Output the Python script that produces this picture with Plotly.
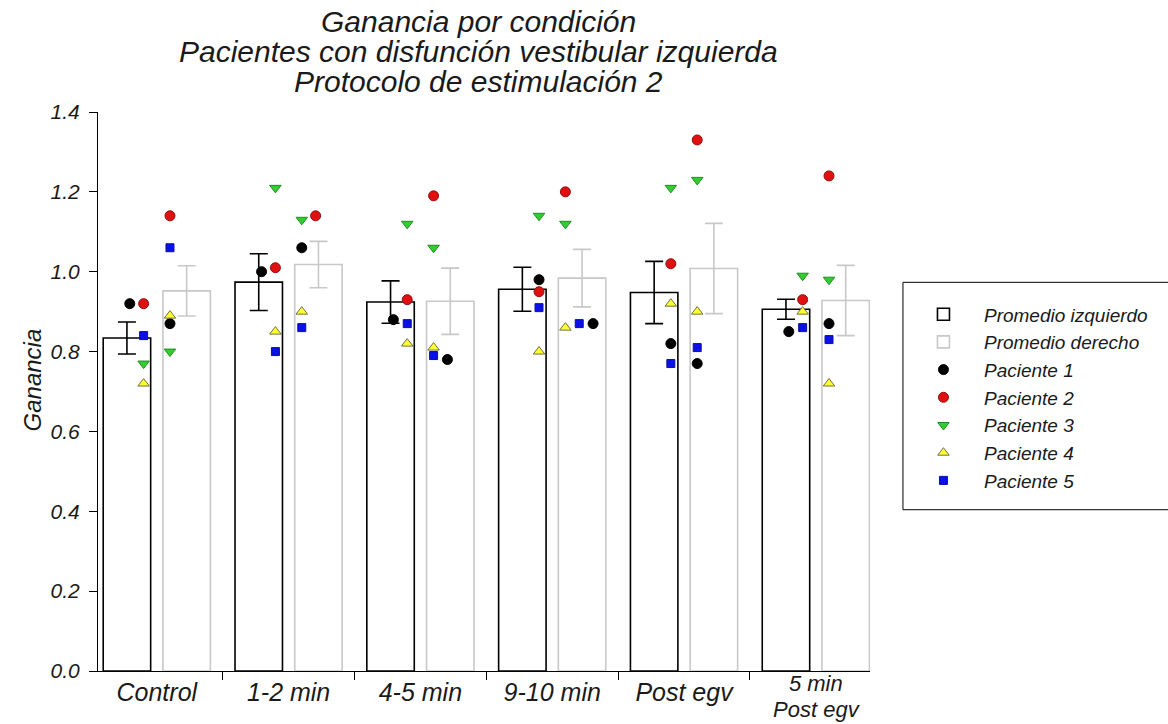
import plotly.graph_objects as go

# ---------------- data ----------------
categories = ["Control", "1-2 min", "4-5 min", "9-10 min", "Post egv", "5 min<br>Post egv"]
title_lines = ["Ganancia por condición",
               "Pacientes con disfunción vestibular izquierda",
               "Protocolo de estimulación 2"]
y_title = "Ganancia"

mean_left = [0.834, 0.974, 0.924, 0.956, 0.948, 0.906]
sem_left = [0.040, 0.071, 0.053, 0.055, 0.078, 0.025]
mean_right = [0.952, 1.018, 0.926, 0.984, 1.008, 0.928]
sem_right = [0.063, 0.058, 0.083, 0.072, 0.113, 0.088]

patients = ["Paciente 1", "Paciente 2", "Paciente 3", "Paciente 4", "Paciente 5"]
p1_left = [0.92, 1.00, 0.88, 0.98, 0.82, 0.85]
p1_right = [0.87, 1.06, 0.78, 0.87, 0.77, 0.87]
p2_left = [0.92, 1.01, 0.93, 0.95, 1.02, 0.93]
p2_right = [1.14, 1.14, 1.19, 1.20, 1.33, 1.24]
p3_left = [0.77, 1.21, 1.12, 1.14, 1.21, 0.99]
p3_right = [0.80, 1.13, 1.06, 1.12, 1.23, 0.98]
p4_left = [0.72, 0.85, 0.82, 0.80, 0.92, 0.90]
p4_right = [0.89, 0.90, 0.81, 0.86, 0.90, 0.72]
p5_left = [0.84, 0.80, 0.87, 0.91, 0.77, 0.86]
p5_right = [1.06, 0.86, 0.79, 0.87, 0.81, 0.83]

left_vals = [p1_left, p2_left, p3_left, p4_left, p5_left]
right_vals = [p1_right, p2_right, p3_right, p4_right, p5_right]

# ---------------- styling ----------------
FONT = "Liberation Sans, Arial, sans-serif"
TXT = "#1a1a1a"
BAR_OFF = 0.2265
BAR_W = 0.36
PT_OFF = 0.10
DODGE = 0.105
CLOSE = 0.015
dodge_order = [3, 2, 4, 1, 0]  # placement priority of patients when points collide
XRANGE = [-0.446, 5.411]

styles = [
    dict(symbol="circle", color="black", line="black", size=10),
    dict(symbol="circle", color="#e01010", line="#901010", size=10),
    dict(symbol="triangle-down", color="#33cc33", line="#1f8f1f", size=10),
    dict(symbol="triangle-up", color="#ffff33", line="#707040", size=10),
    dict(symbol="square", color="#0a10e6", line="#0a10a0", size=8),
]

n = len(categories)
xs = list(range(n))

# dodged x positions of the individual points
side_points = {}
for side, vals, sign in (("L", left_vals, -1), ("R", right_vals, 1)):
    for g in range(n):
        placed = []
        for p in dodge_order:
            v = vals[p][g]
            k = 0
            while any(abs(v - pv) < CLOSE and pk == k for pv, pk in placed):
                k += 1
            placed.append((v, k))
            side_points[(side, p, g)] = (g + sign * (PT_OFF + k * DODGE), v)

fig = go.Figure()
fig.add_trace(go.Bar(
    x=[x - BAR_OFF for x in xs], y=mean_left, width=BAR_W, name="Promedio izquierdo",
    marker=dict(color="white", line=dict(color="black", width=1.6)),
    error_y=dict(type="data", array=sem_left, visible=True, color="black", thickness=1.6, width=9),
))
fig.add_trace(go.Bar(
    x=[x + BAR_OFF for x in xs], y=mean_right, width=BAR_W, name="Promedio derecho",
    marker=dict(color="white", line=dict(color="#c8c8c8", width=1.6)),
    error_y=dict(type="data", array=sem_right, visible=True, color="#c8c8c8", thickness=1.6, width=9),
))

for p, name in enumerate(patients):
    s = styles[p]
    xx, yy = [], []
    for g in range(n):
        for side in ("L", "R"):
            x, v = side_points[(side, p, g)]
            xx.append(x)
            yy.append(v)
    fig.add_trace(go.Scatter(
        x=xx, y=yy, mode="markers", name=name,
        marker=dict(symbol=s["symbol"], color=s["color"], size=s["size"],
                    line=dict(color=s["line"], width=1)),
    ))

# category labels: single-line ones on the main axis, the two-line one split over two overlay axes
single = [c if "<br>" not in c else "" for c in categories]
multi_idx = [i for i, c in enumerate(categories) if "<br>" in c]
first_parts = [categories[i].split("<br>")[0] for i in multi_idx]
second_parts = [categories[i].split("<br>")[1] for i in multi_idx]

# empty carrier traces so the overlay label axes are drawn
for ax in ("x2", "x3"):
    fig.add_trace(go.Scatter(x=multi_idx, y=[None] * len(multi_idx), xaxis=ax, mode="markers",
                             showlegend=False, hoverinfo="skip"))

xfont = dict(family=FONT, size=25, color=TXT, style="italic")
xfont2 = dict(family=FONT, size=22, color=TXT, style="italic")
yfont = dict(family=FONT, size=21, color=TXT, style="italic")

overlay_axis = dict(range=XRANGE, overlaying="x", anchor="y", side="bottom",
                    showline=False, showgrid=False, zeroline=False, ticks="",
                    tickmode="array", tickvals=multi_idx, tickfont=xfont2, automargin=False)

fig.update_layout(
    width=1168, height=724,
    margin=dict(l=98, r=298, t=112, b=53),
    paper_bgcolor="white", plot_bgcolor="white",
    barmode="overlay",
    showlegend=True,
    legend=dict(
        x=1.0427, y=0.672, xanchor="left", yanchor="top",
        borderwidth=0, bgcolor="rgba(0,0,0,0)",
        font=dict(family=FONT, size=19, color=TXT, style="italic"),
        itemwidth=71, tracegroupgap=0,
    ),
    xaxis=dict(
        range=XRANGE, tickmode="array", tickvals=xs, ticktext=single,
        ticks="", showline=True, linecolor="black", linewidth=1.2,
        showgrid=False, zeroline=False, tickfont=xfont, automargin=False,
        ticklabelstandoff=-1,
        minor=dict(tickmode="array", tickvals=[i + 0.5 for i in range(n - 1)],
                   ticks="outside", ticklen=8, tickcolor="black", tickwidth=1.2, showgrid=False),
    ),
    xaxis2=dict(overlay_axis, ticktext=first_parts, ticklabelstandoff=-3),
    xaxis3=dict(overlay_axis, ticktext=second_parts, ticklabelstandoff=23),
    yaxis=dict(
        range=[0, 1.4], tickmode="linear", tick0=0, dtick=0.2, tickformat=".1f",
        ticks="outside", ticklen=8, tickcolor="black", tickwidth=1.2,
        showline=True, linecolor="black", linewidth=1.2, ticklabelstandoff=5,
        showgrid=False, zeroline=False, tickfont=yfont, automargin=False,
    ),
)

# legend frame (runs off the right edge as in the reference)
fig.add_shape(type="rect", xref="paper", yref="paper", x0=1.0427, x1=1.41, y0=0.2885, y1=0.6953,
              line=dict(color="black", width=1), fillcolor="rgba(0,0,0,0)", layer="below")

# title lines and y-axis title
title_y = [1.1613, 1.1075, 1.0538]
for txt, ty in zip(title_lines, title_y):
    fig.add_annotation(text=txt, xref="paper", yref="paper", x=0.4935, y=ty,
                       xanchor="center", yanchor="middle", showarrow=False,
                       font=dict(family=FONT, size=30, color=TXT, style="italic"))
fig.add_annotation(text=y_title, xref="paper", yref="paper", x=-0.0855, y=0.5215,
                   xanchor="center", yanchor="middle", textangle=-90, showarrow=False,
                   font=dict(family=FONT, size=24, color=TXT, style="italic"))

fig.write_html("out.html")
